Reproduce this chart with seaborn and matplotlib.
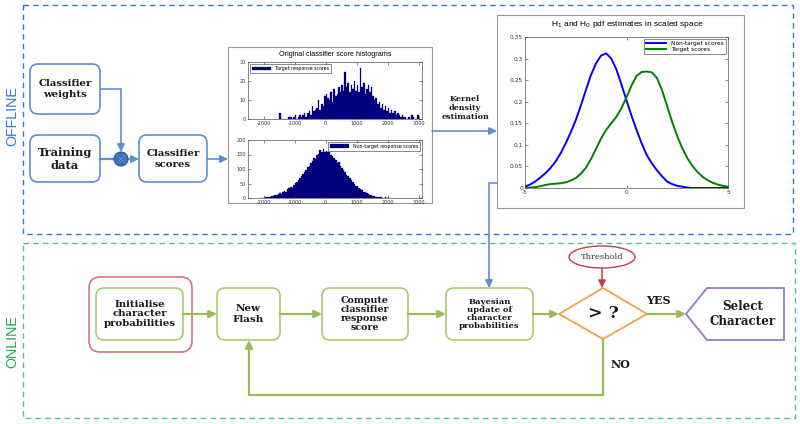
import numpy as np
import pandas as pd
import seaborn as sns
import matplotlib
matplotlib.use("Agg")
import matplotlib.pyplot as plt
from matplotlib.patches import FancyBboxPatch, Rectangle, Polygon, Ellipse, Circle

plt.rcParams["axes.unicode_minus"] = False

# ---------------- data ----------------
target_centers = list(range(-1475, 3000, 50))
target_counts = [3, 0, 0, 0, 0, 0, 1, 1, 0, 1, 2, 0, 1, 2, 1, 2, 3, 1, 3, 4,
                 2, 7, 4, 5, 6, 10, 5, 8, 7, 12, 13, 11, 10, 14, 9, 16, 12, 13, 17, 14,
                 18, 15, 25, 17, 19, 14, 18, 16, 20, 15, 18, 14, 27, 17, 19, 13, 16, 18, 14, 17,
                 12, 10, 11, 8, 9, 6, 8, 5, 7, 4, 6, 3, 5, 3, 4, 2, 3, 2, 1, 2,
                 1, 1, 0, 1, 0, 2, 1, 0, 0, 2]

nontarget_centers = list(range(-2075, 2100, 50))
nontarget_counts = [0, 1, 1, 2, 3, 2, 5, 6, 8, 10, 9, 14, 17, 15, 21, 24, 22, 30, 33, 38,
                    36, 45, 52, 55, 63, 70, 76, 84, 90, 98, 106, 112, 121, 128, 138, 133, 148, 152, 165, 158,
                    170, 160, 163, 157, 160, 150, 146, 138, 130, 122, 125, 110, 104, 95, 88, 80, 76, 68, 62, 55,
                    50, 43, 40, 34, 30, 27, 22, 20, 17, 14, 11, 9, 7, 6, 4, 3, 3, 2, 1, 1,
                    2, 1, 0, 1]

kde_x = [-5, -4.75, -4.5, -4.25, -4, -3.75, -3.5, -3.25, -3, -2.75, -2.5, -2.25, -2, -1.75,
         -1.5, -1.25, -1, -0.75, -0.5, -0.25, 0, 0.25, 0.5, 0.75, 1, 1.25, 1.5, 1.75, 2,
         2.25, 2.5, 2.75, 3, 3.25, 3.5, 3.75, 4, 4.25, 4.5, 4.75, 5]
kde_nontarget = [0.003, 0.008, 0.015, 0.024, 0.034, 0.046, 0.061, 0.080, 0.103, 0.129, 0.157,
                 0.191, 0.227, 0.262, 0.289, 0.307, 0.312, 0.300, 0.275, 0.240, 0.203, 0.167,
                 0.134, 0.103, 0.076, 0.057, 0.041, 0.027, 0.015, 0.009, 0.005, 0.003, 0.001,
                 0.0, 0.0, 0.0, 0.0, 0.0, 0.0, 0.0, 0.0]
kde_target = [0.000, 0.001, 0.002, 0.004, 0.007, 0.009, 0.010, 0.011, 0.013, 0.017, 0.023,
              0.033, 0.047, 0.067, 0.091, 0.115, 0.135, 0.150, 0.165, 0.185, 0.210, 0.238,
              0.260, 0.269, 0.270, 0.268, 0.255, 0.227, 0.190, 0.153, 0.120, 0.092, 0.069,
              0.051, 0.037, 0.026, 0.018, 0.012, 0.008, 0.005, 0.003]

hist_xticks = [-2000, -1000, 0, 1000, 2000, 3000]
kde_yticks = [0, 0.05, 0.1, 0.15, 0.2, 0.25, 0.3, 0.35]

# ---------------- figure ----------------
W, H = 800, 424
fig = plt.figure(figsize=(8, 4.24), dpi=100)
fig.patch.set_facecolor("white")
ax = fig.add_axes([0, 0, 1, 1])
ax.set_xlim(0, W)
ax.set_ylim(H, 0)
ax.axis("off")

SERIF = ["DejaVu Serif"]
BLUE_DASH = "#2F7BD2"
GREEN_DASH = "#4DC28A"
BLUE_BOX = "#5D8ED2"
GREEN_BOX = "#A9CB6E"
GREEN_LINE = "#9BBB59"
RED_BOX = "#D77480"
RED_LINE = "#C0404F"
ORANGE = "#F4A24E"
PURPLE = "#9A7AC6"
TXT = "#1a1a1a"

# dashed frames
ax.add_patch(Rectangle((23, 5), 770, 229, fill=False, ec=BLUE_DASH, lw=1.0, ls=(0, (4, 3))))
ax.add_patch(Rectangle((23, 243), 772, 175, fill=False, ec=GREEN_DASH, lw=1.0, ls=(0, (4, 3))))
ax.text(12, 116, "OFFLINE", rotation=90, ha="center", va="center", color=BLUE_DASH,
        fontsize=10.3, family=["Liberation Sans"])
ax.text(12, 342, "ONLINE", rotation=90, ha="center", va="center", color="#22A94F",
        fontsize=10.3, family=["Liberation Sans"])


def rbox(x0, y0, x1, y1, ec, r=8, lw=1.2):
    ax.add_patch(FancyBboxPatch((x0, y0), x1 - x0, y1 - y0,
                                boxstyle=f"round,pad=0,rounding_size={r}",
                                fc="white", ec=ec, lw=lw, zorder=2))


def label(x, y, s, size, weight="bold", color=TXT, ls=1.05):
    ax.text(x, y, s, ha="center", va="center", fontsize=size, fontweight=weight,
            family=SERIF, color=color, linespacing=ls, zorder=5)


def path(pts, color, lw=1.4, head=True):
    xs = [p[0] for p in pts]
    ys = [p[1] for p in pts]
    if head:
        ax.plot(xs[:-1], ys[:-1], color=color, lw=lw, solid_capstyle="butt", zorder=3)
        ax.annotate("", xy=pts[-1], xytext=pts[-2],
                    arrowprops=dict(arrowstyle="-|>,head_length=0.45,head_width=0.22",
                                    color=color, lw=lw, shrinkA=0, shrinkB=0), zorder=3)
    else:
        ax.plot(xs, ys, color=color, lw=lw, zorder=3)


# offline boxes
rbox(30, 64, 100, 114, BLUE_BOX)
rbox(30, 135, 100, 182, BLUE_BOX)
rbox(139, 135, 207, 182, BLUE_BOX)
label(65, 89, "Classifier\nweights", 7.3, ls=1.15)
label(65, 159, "Training\ndata", 8.2, ls=1.15)
label(173, 159, "Classifier\nscores", 7.3, ls=1.15)
ax.add_patch(Circle((121, 159), 7, fc="#3F6FBF", ec="#2F5597", lw=0.8, zorder=4))
ax.plot([116, 126], [154, 164], color="#5F8AD0", lw=0.6, zorder=5)
ax.plot([116, 126], [164, 154], color="#5F8AD0", lw=0.6, zorder=5)

path([(100, 89), (121, 89), (121, 152)], BLUE_BOX, lw=1.2)
path([(100, 159), (114, 159)], BLUE_BOX, lw=1.6, head=False)
path([(128, 159), (139, 159)], BLUE_BOX, lw=1.2)
path([(207, 159), (228, 159)], BLUE_BOX, lw=1.2)
path([(432, 131), (497, 131)], BLUE_BOX, lw=1.2)
path([(497, 183), (489, 183), (489, 288)], BLUE_BOX, lw=1.2)
label(465, 108, "Kernel\ndensity\nestimation", 5.8, ls=1.15)

# chart panels
ax.add_patch(Rectangle((228, 47), 204, 156, fc="white", ec="#999999", lw=0.8, zorder=2))
ax.text(335, 54, "Original classifier score histograms", ha="center", va="center",
        fontsize=5.2, family=["Liberation Sans"], zorder=5)
ax.add_patch(Rectangle((497, 15), 247, 193, fc="white", ec="#999999", lw=0.8, zorder=2))
ax.text(627, 24, "H$_1$ and H$_0$ pdf estimates in scaled space", ha="center", va="center",
        fontsize=6, family=["Liberation Sans"], zorder=5)

# online boxes
rbox(89, 277, 192, 352, RED_BOX, r=11)
rbox(96, 288, 183, 340, GREEN_BOX)
rbox(217, 288, 280, 340, GREEN_BOX)
rbox(322, 288, 408, 340, GREEN_BOX)
rbox(446, 288, 533, 340, GREEN_BOX)
label(139.5, 314, "Initialise\ncharacter\nprobabilities", 7.3, ls=1.1)
label(248.5, 314, "New\nFlash", 7.5, ls=1.15)
label(365, 314, "Compute\nclassifier\nresponse\nscore", 6.8, ls=1.0)
label(489.5, 314, "Bayesian\nupdate of\ncharacter\nprobabilities", 6.0, ls=1.05)

ax.add_patch(Polygon([(559, 314), (603, 288), (647, 314), (603, 339)], closed=True,
                     fc="white", ec=ORANGE, lw=1.3, zorder=2))
label(603, 314, "> ?", 12.5)
ax.add_patch(Ellipse((602, 257), 66, 22, fc="white", ec=RED_LINE, lw=1.0, zorder=2))
label(602, 257, "Threshold", 6.0, weight="normal", color="#333333")
path([(602, 268), (602, 288)], RED_LINE, lw=1.1)

ax.add_patch(Polygon([(686, 314), (707, 288), (784, 288), (784, 340), (707, 340)], closed=True,
                     fc="white", ec=PURPLE, lw=1.3, zorder=2))
label(743, 314, "Select\nCharacter", 8.6, ls=1.15)
label(658, 301, "YES", 8)
label(620, 364, "NO", 8)

path([(183, 314), (217, 314)], GREEN_LINE, lw=1.6)
path([(280, 314), (322, 314)], GREEN_LINE, lw=1.6)
path([(408, 314), (446, 314)], GREEN_LINE, lw=1.6)
path([(533, 314), (559, 314)], GREEN_LINE, lw=1.6)
path([(647, 314), (686, 314)], GREEN_LINE, lw=1.6)
path([(603, 339), (603, 395), (249, 395), (249, 340)], GREEN_LINE, lw=1.6)


# ---------------- embedded charts ----------------
def fax(x0, y0, x1, y1):
    return fig.add_axes([x0 / W, 1 - y1 / H, (x1 - x0) / W, (y1 - y0) / H])


def matlab_style(a, labelsize=3.5):
    a.tick_params(direction="in", length=2, width=0.4, labelsize=labelsize, pad=1.5,
                  top=True, right=True, colors="#333333")
    for s in a.spines.values():
        s.set_linewidth(0.5)
        s.set_color("#555555")
    a.set_xlabel("")
    a.set_ylabel("")


NAVY = "#00007F"
h1 = fax(248, 62, 422, 119)
sns.histplot(x=target_centers, weights=target_counts, binwidth=50, binrange=(-1500, 3000),
             color=NAVY, alpha=1, edgecolor=NAVY, linewidth=0.2, ax=h1,
             label="Target response scores")
h1.set_xlim(-2500, 3100)
h1.set_ylim(0, 30)
h1.set_xticks(hist_xticks)
h1.set_yticks([0, 10, 20, 30])
matlab_style(h1)
leg = h1.legend(loc="upper left", fontsize=3.4, frameon=True, fancybox=False,
                handlelength=4, borderpad=0.4, borderaxespad=0.5)
leg.get_frame().set_edgecolor("black")
leg.get_frame().set_linewidth(0.4)

h2 = fax(248, 140, 422, 198)
sns.histplot(x=nontarget_centers, weights=nontarget_counts, binwidth=50, binrange=(-2100, 2100),
             color=NAVY, alpha=1, edgecolor=NAVY, linewidth=0.2, ax=h2,
             label="Non-target response scores")
h2.set_xlim(-2500, 3100)
h2.set_ylim(0, 200)
h2.set_xticks(hist_xticks)
h2.set_yticks([0, 50, 100, 150, 200])
matlab_style(h2)
leg = h2.legend(loc="upper right", fontsize=3.4, frameon=True, fancybox=False,
                handlelength=4, borderpad=0.4, borderaxespad=0.4)
leg.get_frame().set_edgecolor("black")
leg.get_frame().set_linewidth(0.4)

k = fax(525, 37, 728, 188)
sns.lineplot(x=kde_x, y=kde_nontarget, color="#0000FF", lw=1.4, ax=k, label="Non-target scores")
sns.lineplot(x=kde_x, y=kde_target, color="#008000", lw=1.4, ax=k, label="Target scores")
k.set_xlim(-5, 5)
k.set_ylim(0, 0.35)
k.set_xticks([-5, 0, 5])
k.set_yticks(kde_yticks)
k.set_yticklabels(["0", "0.05", "0.1", "0.15", "0.2", "0.25", "0.3", "0.35"])
matlab_style(k, labelsize=4.2)
leg = k.legend(loc="upper right", fontsize=4.2, frameon=True, fancybox=False,
               handlelength=3.5, borderpad=0.3, borderaxespad=0.4, labelspacing=0.2)
leg.get_frame().set_edgecolor("black")
leg.get_frame().set_linewidth(0.4)

fig.savefig("out.png", dpi=100, facecolor="white")
